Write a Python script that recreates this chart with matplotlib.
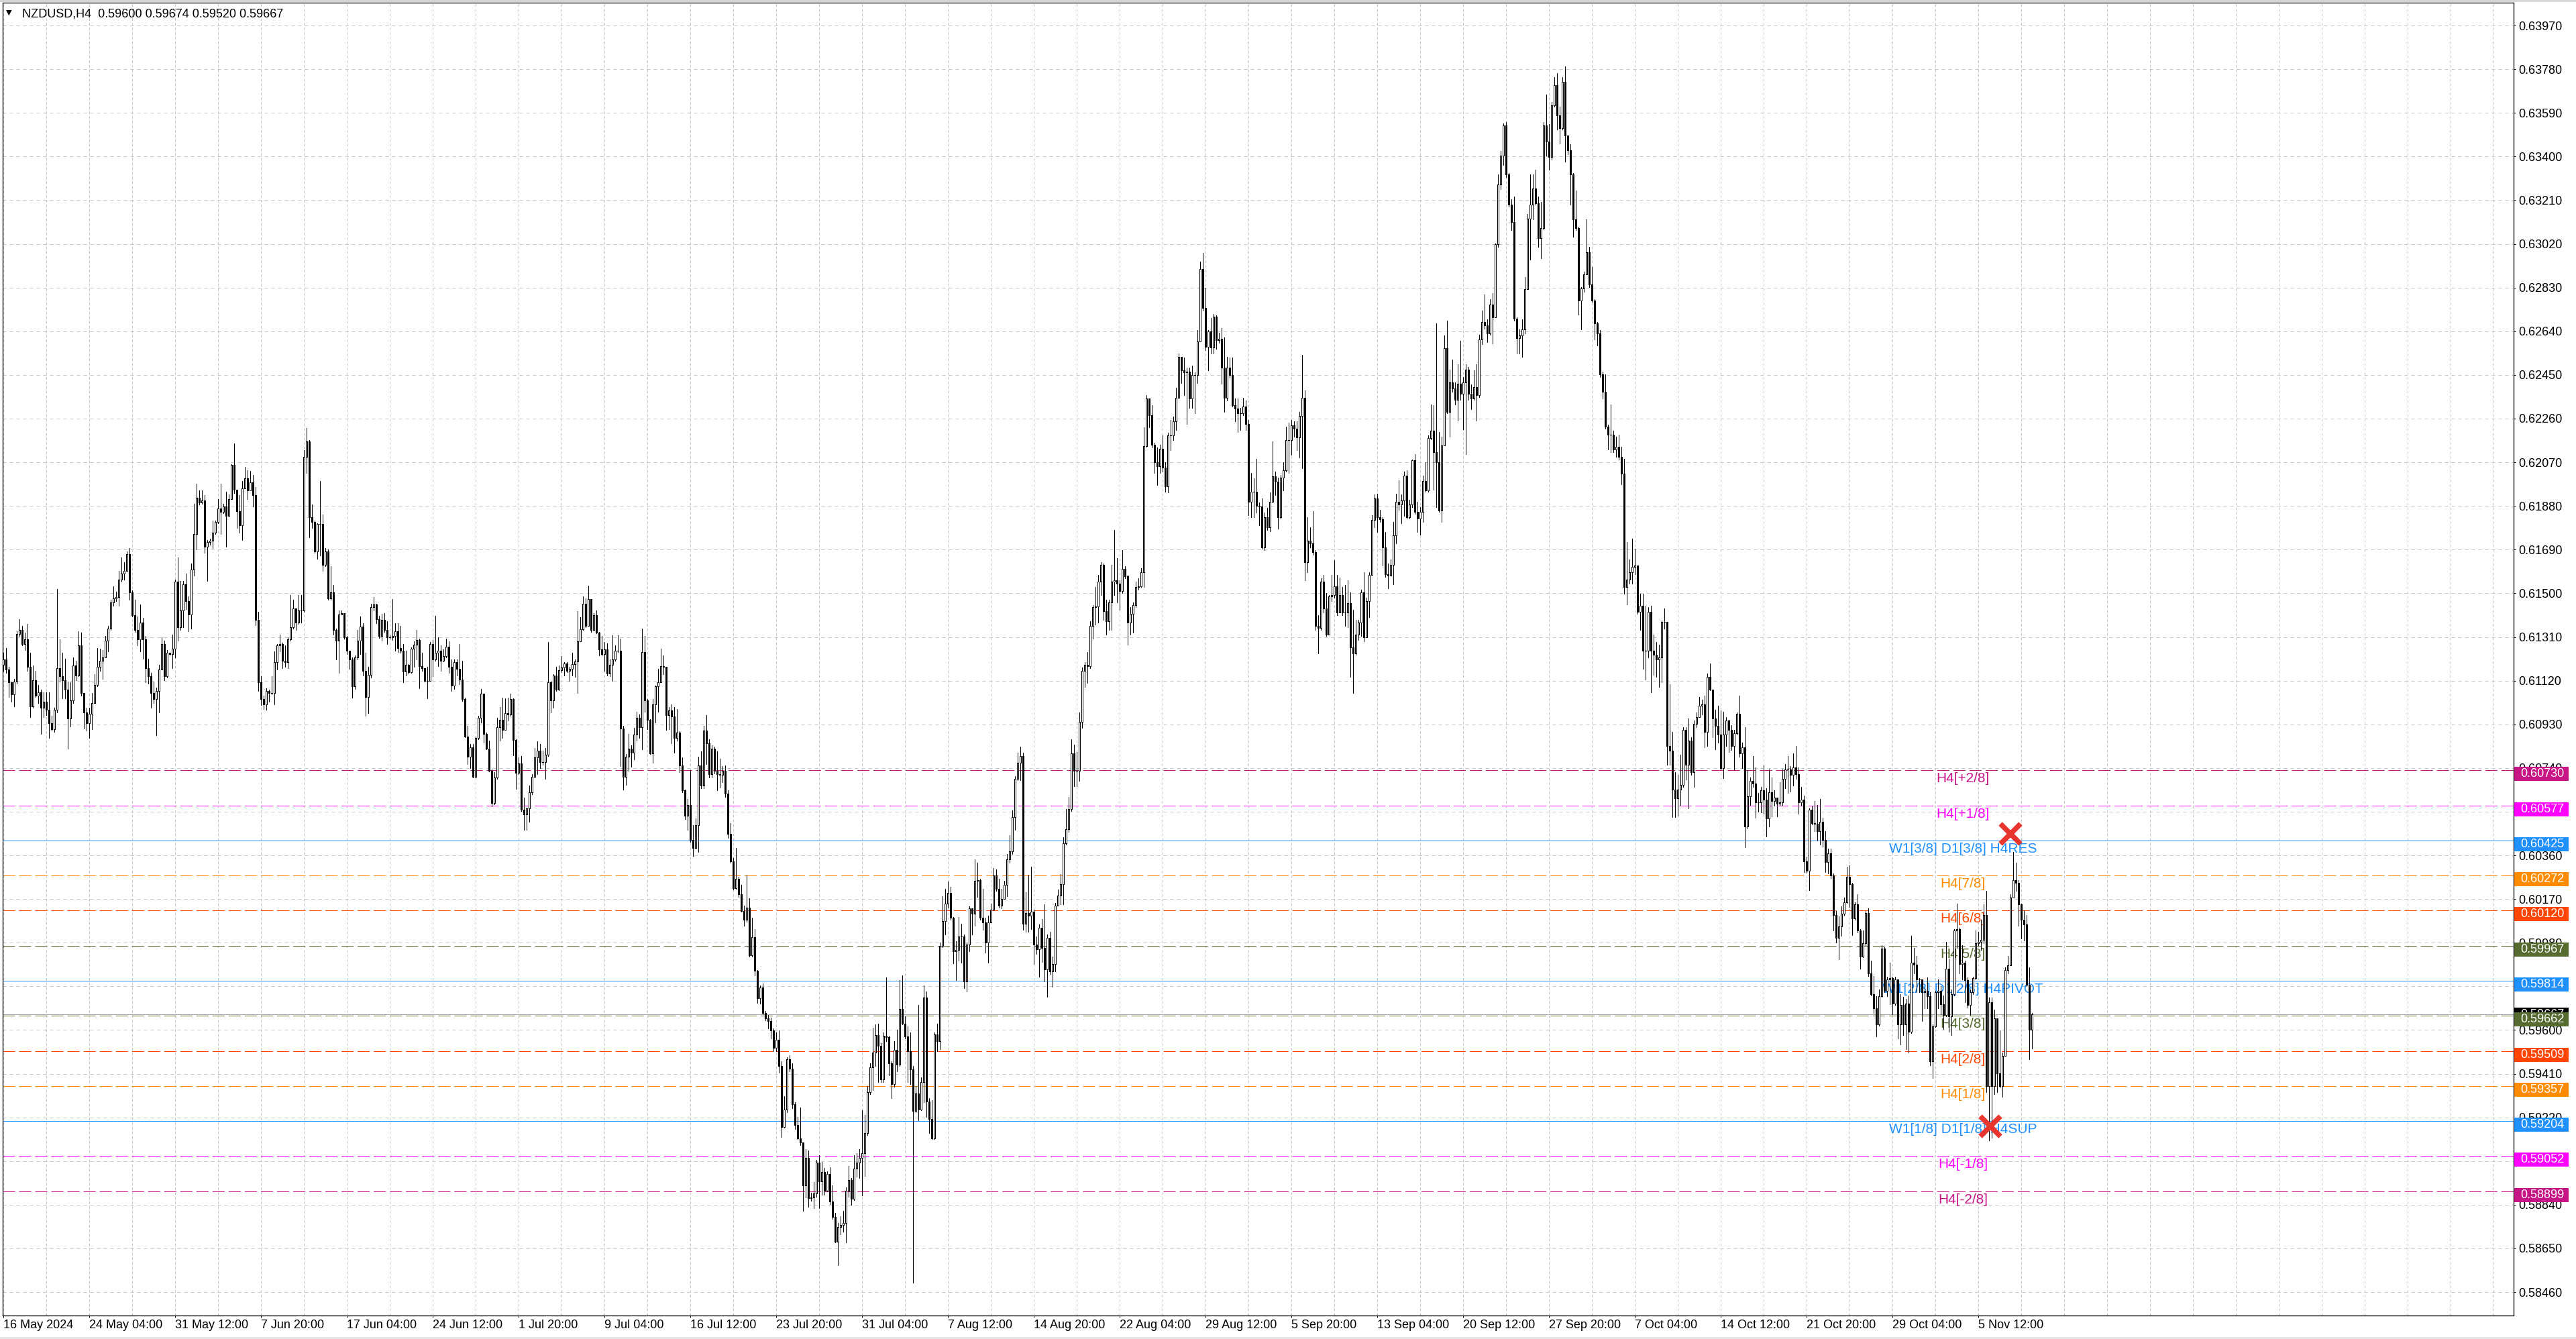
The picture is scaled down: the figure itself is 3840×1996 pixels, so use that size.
import matplotlib
matplotlib.use("Agg")
import matplotlib.pyplot as plt
import numpy as np
from matplotlib import font_manager
from matplotlib.patches import Rectangle
from matplotlib.transforms import offset_copy

# NZDUSD H4 candles, prices in points (1e-5), open of each bar = previous close
first_open = 61190
closes = [
    61213, 61169, 61112, 61060, 61117, 61324, 61341, 61279, 61300, 61180,
    61007, 61122, 61054, 61070, 61002, 61028, 60992, 60934, 60908, 60992,
    61174, 61138, 61122, 61080, 60955, 61033, 61185, 61143, 61274, 61065,
    60981, 60934, 60976, 61023, 61101, 61180, 61206, 61221, 61294, 61347,
    61461, 61477, 61484, 61561, 61587, 61597, 61670, 61503, 61404, 61341,
    61300, 61373, 61300, 61174, 61138, 61065, 61039, 61075, 61169, 61279,
    61138, 61242, 61237, 61258, 61550, 61352, 61425, 61540, 61467, 61409,
    61602, 61759, 61916, 61895, 61905, 61702, 61722, 61728, 61764, 61811,
    61869, 61853, 61879, 61837, 61910, 62059, 61952, 61858, 61796, 61957,
    61999, 61947, 61984, 61926, 61383, 61112, 61039, 61018, 61075, 61065,
    61065, 61200, 61274, 61279, 61206, 61200, 61300, 61352, 61435, 61373,
    61425, 61425, 62093, 62161, 61832, 61811, 61681, 61801, 61801, 61623,
    61681, 61477, 61503, 61341, 61294, 61409, 61414, 61308, 61250, 61211,
    61096, 61220, 61295, 61355, 61162, 61050, 61144, 61441, 61451, 61388,
    61315, 61383, 61342, 61308, 61310, 61315, 61335, 61261, 61251, 61159,
    61188, 61157, 61259, 61276, 61296, 61183, 61175, 61120, 61120, 61279,
    61213, 61240, 61250, 61205, 61226, 61269, 61179, 61097, 61201, 61172,
    61125, 61040, 60877, 60790, 60831, 60702, 60870, 60957, 61062, 60887,
    60823, 60728, 60589, 60699, 60918, 60950, 60906, 60980, 60972, 61040,
    60862, 60720, 60760, 60558, 60538, 60565, 60633, 60702, 60787, 60816,
    60766, 60766, 60797, 61113, 61035, 61143, 61082, 61167, 61177, 61196,
    61162, 61170, 61193, 61204, 61290, 61345, 61454, 61359, 61476, 61342,
    61405, 61329, 61256, 61235, 61256, 61150, 61188, 61211, 61251, 61251,
    60911, 60702, 60790, 60823, 60808, 60886, 60957, 60918, 61245, 61035,
    60950, 60803, 61016, 61096, 61113, 61183, 61181, 60970, 60991, 60965,
    60872, 60894, 60751, 60642, 60533, 60579, 60428, 60392, 60490, 60752,
    60663, 60904, 60847, 60713, 60824, 60727, 60713, 60709, 60727, 60629,
    60454, 60335, 60217, 60258, 60190, 60119, 60080, 60133, 59924, 60003,
    59857, 59737, 59785, 59675, 59652, 59639, 59598, 59521, 59557, 59443,
    59179, 59254, 59473, 59432, 59277, 59188, 59129, 59111, 58925, 59045,
    58870, 58872, 58890, 59022, 58943, 58983, 58902, 58974, 58854, 58786,
    58679, 58742, 58751, 58760, 58902, 58947, 58867, 58997, 59024, 59045,
    59063, 59152, 59330, 59437, 59503, 59577, 59532, 59384, 59575, 59568,
    59455, 59366, 59514, 59450, 59693, 59628, 59571, 59509, 59429, 59247,
    59325, 59254, 59375, 59741, 59289, 59214, 59129, 59580, 59553, 59967,
    60074, 60151, 60196, 60089, 59942, 59949, 60008, 60008, 59812, 59973,
    60128, 60106, 60249, 60253, 60089, 60067, 59982, 60067, 60124, 60272,
    60213, 60142, 60169, 60231, 60342, 60378, 60526, 60692, 60763, 60793,
    60062, 60110, 60098, 60114, 59973, 59952, 60045, 59958, 59865, 60002,
    59854, 59886, 60141, 60184, 60234, 60414, 60473, 60560, 60803, 60727,
    60727, 60940, 61163, 61189, 61183, 61357, 61439, 61443, 61552, 61624,
    61422, 61378, 61461, 61552, 61558, 61543, 61509, 61606, 61574, 61374,
    61411, 61450, 61526, 61530, 61591, 62140, 62347, 62275, 62145, 62069,
    62054, 62130, 62047, 61964, 62188, 62188, 62247, 62351, 62529, 62470,
    62460, 62464, 62347, 62449, 62449, 62596, 62911, 62742, 62572, 62638,
    62568, 62703, 62601, 62607, 62481, 62351, 62481, 62449, 62318, 62303,
    62282, 62282, 62312, 62238, 61899, 61943, 61943, 61880, 61878, 61700,
    61830, 61786, 61899, 62008, 61986, 61830, 62004, 62036, 62166, 62166,
    62232, 62216, 62177, 62271, 62351, 61634, 61728, 61717, 61678, 61357,
    61348, 61552, 61435, 61320, 61487, 61493, 61530, 61417, 61493, 61417,
    61417, 61456, 61265, 61239, 61320, 61374, 61504, 61309, 61465, 61580,
    61819, 61912, 61832, 61821, 61701, 61582, 61577, 61625, 61751, 61897,
    61886, 61904, 62012, 61832, 61886, 62078, 61854, 61825, 61854, 61989,
    61947, 62174, 62208, 62115, 62071, 61860, 62143, 62565, 62289, 62419,
    62391, 62343, 62413, 62369, 62419, 62474, 62369, 62348, 62398, 62361,
    62604, 62681, 62665, 62631, 62757, 62702, 63018, 63279, 63403, 63534,
    63323, 63192, 63116, 62696, 62609, 62622, 62648, 62822, 63131, 63192,
    63262, 63196, 63044, 63088, 63536, 63464, 63399, 63623, 63710, 63579,
    63523, 63725, 63492, 63427, 63323, 63127, 63088, 62774, 62826, 62887,
    62985, 62844, 62774, 62674, 62631, 62452, 62376, 62224, 62191, 62191,
    62126, 62137, 62093, 62021, 61527, 61560, 61592, 61614, 61621, 61418,
    61447, 61251, 61251, 61418, 61251, 61233, 61212, 61222, 61375, 61375,
    60837, 60815, 60646, 60607, 60646, 60667, 60907, 60755, 60859, 60722,
    60933, 60961, 61011, 61016, 60896, 61135, 61081, 60955, 60924, 60886,
    60738, 60886, 60948, 60906, 60835, 60892, 60975, 60803, 60831, 60486,
    60617, 60683, 60672, 60590, 60590, 60642, 60601, 60521, 60634, 60596,
    60610, 60585, 60590, 60693, 60734, 60734, 60711, 60741, 60714, 60590,
    60603, 60335, 60294, 60559, 60500, 60496, 60466, 60507, 60427, 60331,
    60369, 60273, 60101, 60000, 60050, 60105, 60156, 60266, 60234, 60087,
    60146, 60032, 59918, 59977, 60108, 59846, 59757, 59695, 59626, 59747,
    59954, 59770, 59819, 59825, 59715, 59821, 59626, 59708, 59626, 59715,
    59591, 59894, 59885, 59819, 59821, 59764, 59770, 59747, 59463, 59615,
    59764, 59770, 59711, 59664, 59867, 59660, 59757, 60032, 60039, 59887,
    59894, 59816, 59708, 59764, 59825, 59977, 59984, 59991, 60101, 59357,
    59722, 59357, 59650, 59412, 59357, 59488, 59860, 59881, 60177, 60252,
    60239, 60146, 60080, 60060, 59798, 59600, 59667,
]
highs = [
    61242, 61263, 61180, 61112, 61127, 61336, 61388, 61357, 61330, 61368,
    61242, 61185, 61164, 61101, 61080, 61070, 61070, 61070, 60966, 61002,
    61519, 61300, 61242, 61216, 61117, 61112, 61221, 61206, 61336, 61330,
    61065, 61002, 61002, 61065, 61148, 61263, 61258, 61253, 61315, 61357,
    61472, 61529, 61508, 61597, 61655, 61634, 61681, 61696, 61514, 61472,
    61399, 61451, 61394, 61315, 61216, 61153, 61117, 61091, 61190, 61310,
    61294, 61253, 61242, 61321, 61561, 61655, 61555, 61555, 61587, 61488,
    61629, 61890, 61978, 61947, 61947, 61926, 61733, 61738, 61816, 61816,
    61910, 61978, 61890, 61942, 61931, 62062, 62151, 61952, 61926, 61989,
    62051, 62036, 62031, 62015, 61963, 61420, 61138, 61054, 61086, 61080,
    61138, 61247, 61279, 61321, 61284, 61274, 61310, 61493, 61472, 61420,
    61493, 61493, 62124, 62218, 62166, 61885, 61816, 61806, 61989, 61842,
    61696, 61691, 61618, 61535, 61347, 61425, 61425, 61405, 61313, 61250,
    61220, 61230, 61342, 61398, 61371, 61240, 61181, 61454, 61485, 61454,
    61401, 61410, 61415, 61378, 61318, 61474, 61371, 61371, 61357, 61279,
    61250, 61191, 61264, 61290, 61342, 61303, 61240, 61162, 61181, 61288,
    61298, 61401, 61308, 61274, 61255, 61303, 61290, 61211, 61211, 61211,
    61279, 61206, 61045, 60923, 60845, 60845, 60875, 60967, 61084, 61064,
    60894, 60860, 60733, 60723, 60959, 61006, 61047, 61042, 61045, 61064,
    61042, 60865, 60787, 60792, 60611, 60568, 60665, 60714, 60826, 60855,
    60845, 60816, 60828, 61288, 61120, 61148, 61181, 61186, 61228, 61201,
    61201, 61181, 61240, 61211, 61423, 61396, 61488, 61478, 61534, 61474,
    61415, 61425, 61332, 61313, 61288, 61281, 61211, 61318, 61274, 61318,
    61303, 60923, 60801, 60889, 60840, 60914, 60986, 60972, 61347, 61313,
    61040, 60952, 61040, 61099, 61172, 61259, 61230, 61128, 61006, 61016,
    61006, 60996, 60899, 60787, 60645, 60606, 60731, 60490, 60520, 60788,
    60811, 60924, 60970, 60865, 60838, 60833, 60811, 60781, 60749, 60752,
    60642, 60499, 60347, 60392, 60267, 60231, 60142, 60276, 60174, 60089,
    60039, 59860, 59794, 59803, 59682, 59664, 59655, 59607, 59589, 59598,
    59464, 59313, 59482, 59491, 59455, 59286, 59223, 59263, 59081, 59081,
    59075, 58893, 58938, 59036, 59054, 59027, 59000, 58986, 59004, 58925,
    58804, 58760, 58790, 58813, 58915, 59009, 58956, 59054, 59063, 59081,
    59250, 59232, 59357, 59455, 59610, 59625, 59628, 59544, 59589, 59830,
    59575, 59464, 59553, 59602, 59817, 59839, 59660, 59616, 59589, 59443,
    59357, 59710, 59393, 59794, 59767, 59304, 59295, 59589, 59628, 59982,
    60181, 60213, 60246, 60222, 60092, 59985, 60092, 60062, 60017, 59982,
    60139, 60124, 60342, 60329, 60258, 60213, 60089, 60098, 60151, 60306,
    60299, 60258, 60213, 60249, 60365, 60449, 60556, 60704, 60806, 60834,
    60806, 60199, 60276, 60310, 60125, 60006, 60060, 60082, 60147, 60017,
    60028, 59919, 60154, 60212, 60277, 60440, 60560, 60614, 60864, 60842,
    60809, 60983, 61178, 61200, 61244, 61378, 61450, 61526, 61580, 61634,
    61630, 61472, 61472, 61624, 61776, 61652, 61558, 61689, 61617, 61580,
    61439, 61461, 61552, 61565, 61608, 62221, 62362, 62312, 62318, 62156,
    62134, 62145, 62188, 62069, 62199, 62253, 62268, 62394, 62542, 62525,
    62525, 62481, 62481, 62492, 62460, 62644, 62942, 62981, 62829, 62644,
    62698, 62716, 62709, 62633, 62655, 62612, 62529, 62525, 62525, 62347,
    62347, 62308, 62351, 62340, 62253, 62025, 61999, 62084, 61895, 61912,
    61852, 61873, 61938, 62160, 62030, 62004, 62014, 62069, 62225, 62242,
    62253, 62247, 62247, 62290, 62536, 62384, 61830, 61786, 61856, 61689,
    61406, 61565, 61580, 61500, 61493, 61580, 61645, 61580, 61569, 61526,
    61537, 61558, 61504, 61428, 61385, 61385, 61515, 61591, 61482, 61591,
    61841, 61930, 61934, 61864, 61832, 61767, 61629, 61647, 61810, 61934,
    61991, 61930, 62028, 62034, 61908, 62082, 62104, 61897, 61875, 62012,
    62071, 62187, 62322, 62317, 62674, 62202, 62180, 62622, 62687, 62474,
    62517, 62419, 62496, 62600, 62441, 62496, 62485, 62409, 62470, 62496,
    62626, 62731, 62800, 62692, 62779, 62805, 63022, 63323, 63425, 63545,
    63551, 63327, 63214, 63225, 62702, 62648, 62692, 62876, 63149, 63323,
    63323, 63344, 63225, 63203, 63551, 63671, 63540, 63638, 63747, 63762,
    63616, 63747, 63791, 63486, 63453, 63327, 63253, 63094, 62833, 62898,
    63127, 63007, 62920, 62779, 62681, 62644, 62463, 62452, 62234, 62322,
    62208, 62180, 62191, 62137, 62086, 61723, 61647, 61738, 61695, 61621,
    61499, 61499, 61447, 61440, 61447, 61320, 61288, 61277, 61381, 61434,
    61375, 61103, 60896, 60722, 60711, 60798, 60918, 60918, 60955, 60874,
    60946, 60983, 61048, 61037, 61055, 61151, 61194, 61048, 60994, 61010,
    60989, 60986, 60961, 60950, 60927, 60906, 60982, 61055, 60851, 60917,
    60730, 60700, 60793, 60741, 60631, 60658, 60752, 60652, 60734, 60700,
    60642, 60603, 60679, 60734, 60758, 60793, 60748, 60803, 60835, 60741,
    60658, 60620, 60353, 60565, 60576, 60596, 60579, 60606, 60524, 60466,
    60390, 60390, 60280, 60119, 60094, 60138, 60177, 60311, 60317, 60239,
    60156, 60190, 60039, 60032, 60119, 60128, 59901, 59835, 59747, 59777,
    59970, 59959, 59832, 59894, 59832, 59832, 59819, 59757, 59743, 59736,
    59750, 60011, 59956, 59922, 59825, 59819, 59784, 59830, 59764, 59626,
    59770, 59819, 59791, 59750, 59984, 59912, 59777, 60039, 60149, 60046,
    59970, 59901, 59830, 59777, 59832, 60032, 60028, 60080, 60146, 60204,
    59740, 59740, 59690, 59580, 59598, 59502, 59874, 59922, 60190, 60376,
    60328, 60252, 60149, 60120, 60101, 59874, 59674,
]
lows = [
    61164, 61153, 61049, 61028, 61007, 61107, 61315, 61274, 61253, 61164,
    60960, 61002, 61049, 61023, 60887, 60960, 60971, 60872, 60903, 60898,
    60981, 61117, 61044, 61044, 60825, 60919, 61023, 61122, 61138, 61054,
    60913, 60903, 60872, 60908, 61023, 61096, 61164, 61127, 61221, 61247,
    61341, 61446, 61467, 61446, 61550, 61561, 61597, 61472, 61399, 61331,
    61274, 61247, 61216, 61112, 61107, 61002, 61023, 60882, 60981, 61169,
    61122, 61133, 61232, 61174, 61221, 61294, 61341, 61352, 61430, 61336,
    61347, 61576, 61691, 61885, 61890, 61675, 61555, 61712, 61696, 61759,
    61806, 61759, 61848, 61702, 61837, 61910, 61937, 61785, 61764, 61733,
    61957, 61910, 61947, 61879, 61362, 61075, 61013, 60997, 60992, 61028,
    61060, 61018, 61169, 61247, 61174, 61180, 61174, 61294, 61347, 61341,
    61368, 61373, 61420, 62025, 61743, 61785, 61675, 61649, 61665, 61597,
    61618, 61472, 61472, 61321, 61211, 61153, 61409, 61303, 61235, 61172,
    61045, 61084, 61211, 61235, 61143, 60967, 60979, 61133, 61425, 61371,
    61306, 61293, 61332, 61279, 61303, 61298, 61250, 61245, 61240, 61113,
    61143, 61150, 61154, 61181, 61211, 61086, 61162, 61115, 61043, 61118,
    61138, 61206, 61183, 61164, 61203, 61222, 61154, 61076, 61084, 61143,
    61105, 61030, 60874, 60757, 60738, 60699, 60699, 60865, 60938, 60850,
    60821, 60725, 60574, 60582, 60694, 60860, 60870, 60908, 60947, 60967,
    60796, 60650, 60714, 60553, 60470, 60472, 60507, 60626, 60699, 60714,
    60738, 60753, 60694, 60792, 60982, 61001, 61074, 61079, 61157, 61143,
    61157, 61120, 61143, 61135, 61066, 61332, 61342, 61352, 61357, 61332,
    61337, 61326, 61230, 61230, 61162, 61143, 61138, 61120, 61206, 61245,
    60747, 60647, 60667, 60728, 60745, 60777, 60860, 60870, 60821, 60986,
    60908, 60801, 60762, 60938, 60984, 61123, 61147, 60905, 60908, 60848,
    60806, 60858, 60723, 60634, 60519, 60472, 60419, 60356, 60388, 60374,
    60651, 60651, 60758, 60699, 60699, 60717, 60642, 60656, 60677, 60615,
    60436, 60329, 60210, 60213, 60178, 60115, 60053, 60071, 59919, 59919,
    59839, 59718, 59714, 59669, 59643, 59607, 59562, 59509, 59509, 59414,
    59134, 59175, 59241, 59420, 59259, 59170, 59125, 59098, 58813, 58872,
    58831, 58858, 58826, 58875, 58826, 58884, 58884, 58897, 58843, 58777,
    58676, 58576, 58711, 58724, 58676, 58875, 58840, 58861, 58961, 58956,
    58879, 58965, 59143, 59321, 59339, 59443, 59375, 59375, 59375, 59553,
    59402, 59304, 59354, 59420, 59443, 59625, 59562, 59375, 59366, 58501,
    59241, 59206, 59250, 59286, 59223, 59152, 59125, 59125, 59509, 59518,
    59960, 60017, 60133, 60080, 59889, 59817, 59901, 59892, 59782, 59767,
    59942, 60017, 60053, 60178, 60080, 60035, 59937, 59892, 60067, 60121,
    60205, 60133, 60128, 60169, 60181, 60329, 60365, 60472, 60686, 60686,
    60035, 60026, 60026, 60038, 59886, 59930, 59832, 59897, 59810, 59745,
    59843, 59789, 59854, 60141, 60147, 60147, 60408, 60462, 60553, 60662,
    60662, 60683, 60914, 61092, 61109, 61174, 61304, 61363, 61374, 61493,
    61385, 61320, 61341, 61341, 61493, 61461, 61428, 61500, 61565, 61276,
    61320, 61330, 61439, 61515, 61526, 61526, 62138, 62221, 62134, 62025,
    61971, 62025, 62030, 61943, 61938, 62123, 62166, 62210, 62351, 62416,
    62362, 62238, 62308, 62308, 62282, 62416, 62607, 62731, 62557, 62470,
    62542, 62542, 62564, 62590, 62412, 62290, 62340, 62438, 62312, 62247,
    62203, 62210, 62275, 62210, 61841, 61830, 61830, 61852, 61797, 61695,
    61689, 61776, 61769, 61895, 61928, 61782, 61826, 61949, 62030, 62025,
    62101, 62182, 62123, 62090, 62043, 61558, 61591, 61700, 61667, 61341,
    61239, 61341, 61417, 61313, 61320, 61465, 61482, 61406, 61482, 61406,
    61357, 61352, 61135, 61066, 61233, 61298, 61313, 61291, 61309, 61396,
    61580, 61788, 61767, 61810, 61621, 61571, 61521, 61577, 61538, 61716,
    61864, 61804, 61838, 61825, 61825, 61875, 61847, 61767, 61756, 61810,
    61941, 61941, 62169, 61952, 61875, 61854, 61810, 62143, 62282, 62180,
    62376, 62322, 62252, 62343, 62213, 62104, 62343, 62300, 62343, 62252,
    62354, 62583, 62652, 62594, 62626, 62587, 62702, 63007, 63257, 63362,
    63312, 63181, 63079, 62687, 62544, 62544, 62528, 62631, 62822, 62953,
    63127, 63192, 63007, 62957, 63083, 63405, 63344, 63388, 63616, 63519,
    63458, 63519, 63377, 63410, 63192, 63051, 63079, 62713, 62648, 62811,
    62887, 62833, 62768, 62604, 62578, 62441, 62348, 62217, 62126, 62115,
    62115, 62093, 62082, 61973, 61499, 61451, 61542, 61542, 61582, 61412,
    61342, 61172, 61124, 61222, 61070, 61146, 61135, 61092, 61114, 61347,
    60754, 60754, 60526, 60526, 60533, 60576, 60657, 60689, 60563, 60711,
    60657, 60918, 60961, 60972, 60831, 60837, 61077, 60874, 60820, 60851,
    60734, 60697, 60837, 60810, 60817, 60734, 60886, 60789, 60738, 60394,
    60477, 60579, 60658, 60524, 60551, 60548, 60541, 60441, 60486, 60528,
    60576, 60528, 60576, 60576, 60652, 60631, 60638, 60665, 60693, 60541,
    60576, 60287, 60284, 60207, 60493, 60466, 60424, 60408, 60397, 60287,
    60280, 60262, 60032, 59981, 59908, 60011, 60101, 60152, 60135, 60014,
    60080, 60025, 59867, 59915, 59970, 59835, 59750, 59674, 59571, 59619,
    59743, 59764, 59747, 59711, 59667, 59708, 59564, 59536, 59578, 59516,
    59502, 59587, 59846, 59766, 59764, 59640, 59695, 59695, 59447, 59392,
    59612, 59695, 59667, 59605, 59660, 59591, 59578, 59750, 59956, 59846,
    59819, 59722, 59697, 59664, 59757, 59819, 59970, 59949, 59977, 59330,
    59120, 59130, 59320, 59330, 59350, 59309, 59488, 59846, 59901, 60177,
    60204, 60053, 59998, 59990, 59791, 59474, 59520,
]

date_labels = [
    "16 May 2024", "24 May 04:00", "31 May 12:00", "7 Jun 20:00", "17 Jun 04:00",
    "24 Jun 12:00", "1 Jul 20:00", "9 Jul 04:00", "16 Jul 12:00", "23 Jul 20:00",
    "31 Jul 04:00", "7 Aug 12:00", "14 Aug 20:00", "22 Aug 04:00", "29 Aug 12:00",
    "5 Sep 20:00", "13 Sep 04:00", "20 Sep 12:00", "27 Sep 20:00", "7 Oct 04:00",
    "14 Oct 12:00", "21 Oct 20:00", "29 Oct 04:00", "5 Nov 12:00",
]
bars_per_label = 32

# Murrey-style levels drawn by the indicator
levels = [0.60730, 0.60577, 0.60425, 0.60272, 0.60120, 0.59967, 0.59814,
          0.59662, 0.59509, 0.59357, 0.59204, 0.59052, 0.58899]
level_names = ["H4[+2/8]", "H4[+1/8]", "W1[3/8] D1[3/8] H4RES", "H4[7/8]", "H4[6/8]",
               "H4[5/8]", "W1[2/8] D1[2/8] H4PIVOT", "H4[3/8]", "H4[2/8]", "H4[1/8]",
               "W1[1/8] D1[1/8] H4SUP", "H4[-1/8]", "H4[-2/8]"]
level_colors = ["#C71585", "#FF00FF", "#1E90FF", "#FF8C00", "#FF4500", "#556B2F", "#1E90FF",
                "#556B2F", "#FF4500", "#FF8C00", "#1E90FF", "#FF00FF", "#C71585"]
level_solid = [False, False, True, False, False, False, True,
               False, False, False, True, False, False]

# red cross signals
signal_bars = [748, 740.5]
signal_prices = [0.60453, 0.59181]

W, H, DPI = 3840, 1996, 100
PX = 72 / DPI

names = {f.name for f in font_manager.fontManager.ttflist}
base_font = "Liberation Sans" if "Liberation Sans" in names else "DejaVu Sans"
plt.rcParams["font.family"] = [base_font, "DejaVu Sans"]
plt.rcParams["lines.scale_dashes"] = False

fig = plt.figure(figsize=(W / DPI, H / DPI), dpi=DPI)
fig.patch.set_facecolor("white")
ax = fig.add_axes([4 / W, 35 / H, 3743 / W, 1957 / H])
ax.set_xlim(-0.25, 935.5)
ax.set_ylim(0.583579, 0.640695)
ppx = (0.640695 - 0.583579) / 1957

n = min(len(closes), len(highs), len(lows))
c = np.array(closes[:n]) / 1e5
o = np.concatenate([[first_open / 1e5], c[:-1]])
hi = np.maximum(np.array(highs[:n]) / 1e5, np.maximum(o, c))
lo = np.minimum(np.array(lows[:n]) / 1e5, np.minimum(o, c))
x = np.arange(n)
up = c >= o

ax.vlines(x, lo, hi, colors="black", linewidth=PX, zorder=3, antialiased=False)
ax.bar(x[up], (c - o)[up], bottom=o[up], width=0.55, color="white",
       edgecolor="black", linewidth=PX, zorder=4, antialiased=False)
ax.bar(x[~up], (o - c)[~up], bottom=c[~up], width=0.55, color="black",
       edgecolor="black", linewidth=PX, zorder=4, antialiased=False)

# grid and axes
y_ticks = np.round(0.58460 + 0.0019 * np.arange(30), 5)
ax.set_yticks(y_ticks)
ax.set_yticklabels([f"{v:.5f}" for v in y_ticks])
ax.yaxis.tick_right()
ax.set_xticks(np.arange(len(date_labels)) * bars_per_label)
ax.set_xticklabels(date_labels, ha="left")
ax.set_xticks(np.arange(0, 936, bars_per_label // 2), minor=True)
ax.set_axisbelow(True)
ax.grid(True, which="both", axis="x", color="#C4C4C4", linewidth=PX, linestyle=(0, (2.5, 2.5)))
ax.grid(True, which="major", axis="y", color="#C4C4C4", linewidth=PX, linestyle=(0, (3.6, 3.6)))
ax.tick_params(axis="x", which="minor", length=0)
ax.tick_params(axis="x", which="major", length=3 * PX, width=PX, pad=3 * PX, labelsize=13)
ax.tick_params(axis="y", length=3 * PX, width=PX, pad=4 * PX, labelsize=13)
for s in ax.spines.values():
    s.set_color("black")
    s.set_linewidth(1.3 * PX)

# level lines and labels
label_bar = 730.25
text_tr = offset_copy(ax.transData, fig=fig, x=0, y=-3, units="dots")
for lev, name, col, solid in zip(levels, level_names, level_colors, level_solid):
    ls = "-" if solid else (0, (13, 4.3))
    ax.axhline(lev, color=col, linewidth=PX, linestyle=ls, zorder=2)
    ax.text(label_bar, lev, name, color=col, fontsize=15, ha="center", va="top",
            transform=text_tr, zorder=2.5)

bid = c[-1]
ax.axhline(bid, color="#A8A8A8", linewidth=PX, zorder=2)

# price boxes on the right scale
box_tr = ax.get_yaxis_transform()
bx, bw = 1.0003, 81 / 3743
ax.add_patch(Rectangle((bx, bid - 10.5 * ppx), bw, 21 * ppx, transform=box_tr,
                       facecolor="black", edgecolor="none", clip_on=False, zorder=9))
ax.text(1.0027, bid, f"{bid:.5f}", transform=box_tr, color="white", fontsize=13,
        va="center", ha="left", clip_on=False, zorder=9.5)
for lev, col in zip(levels, level_colors):
    ax.add_patch(Rectangle((bx, lev - 16 * ppx), bw, 21 * ppx, transform=box_tr,
                           facecolor=col, edgecolor="none", clip_on=False, zorder=10))
    ax.text(1.0027, lev - 5.5 * ppx, f"{lev:.5f}", transform=box_tr, color="white",
            fontsize=13, va="center", ha="left", clip_on=False, zorder=11)

# signal crosses
ax.plot(signal_bars, signal_prices, linestyle="none", marker="x", markersize=22,
        markeredgewidth=5.5, color="#E8362F", zorder=12)

# header
fig.text(9 / W, 1 - 22 / H, "\u25bc", fontsize=8, family="DejaVu Sans", va="baseline")
fig.text(33 / W, 1 - 26 / H,
         f"NZDUSD,H4  {o[-1]:.5f} {hi[-1]:.5f} {lo[-1]:.5f} {c[-1]:.5f}",
         fontsize=13, va="baseline")

fig.patches.append(Rectangle((0, 1 - 3 / H), 1, 3 / H, transform=fig.transFigure,
                             facecolor="#D6D6D6", edgecolor="none"))
fig.patches.append(Rectangle((0, 0), 1, 3 / H, transform=fig.transFigure,
                             facecolor="#E4E4E4", edgecolor="none"))

fig.savefig("out.png", dpi=DPI, facecolor="white")
